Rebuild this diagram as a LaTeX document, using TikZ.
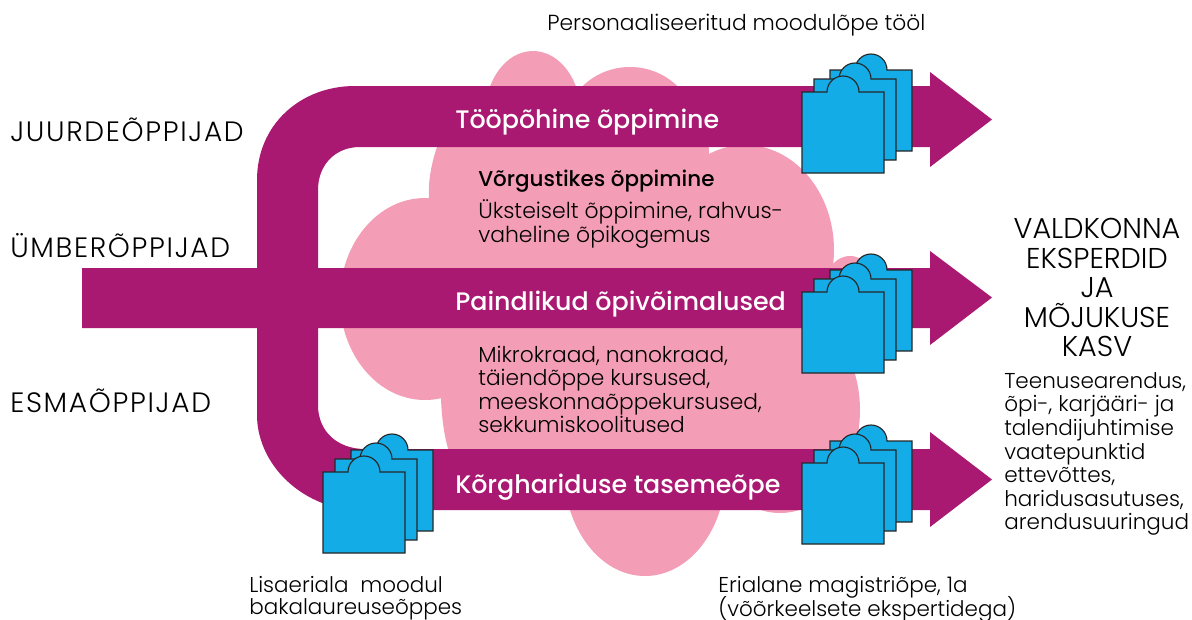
\documentclass[tikz,border=0pt]{standalone}
\usepackage{fontspec}
\setmainfont{Poppins Light}[BoldFont=Poppins Medium]
\definecolor{plum}{HTML}{A91871}
\definecolor{cloudpink}{HTML}{F49DB6}
\definecolor{cardblue}{HTML}{13ACE6}
\newcommand{\fs}[2]{\fontsize{#1}{#2}\selectfont}
\newcommand{\onecard}[2]{%
  \draw[cardline,shift={(#1,#2)}] (0,0) -- (25,0) arc[start angle=180,end angle=360,radius=16] -- (82,0) -- (82,81) -- (0,81) -- cycle;}
\newcommand{\cardstack}[2]{%
  \begin{scope}[shift={(#1,#2)}]
    \onecard{28}{-22}\onecard{12}{-13}\onecard{0}{0}
  \end{scope}}
\tikzset{
  cardline/.style={fill=cardblue,draw=black!85,line width=0.85pt,line join=miter},
  lobe/.style={fill=cloudpink,draw=none},
  band/.style={fill=plum,draw=none},
  lefttext/.style={anchor=west,font=\fs{21}{21}\addfontfeatures{LetterSpace=6},inner sep=0pt},
  inbar/.style={anchor=west,text=white,font=\fs{19}{19}\bfseries,inner sep=0pt},
  body/.style={anchor=north west,align=left,inner sep=0pt,font=\fs{16.3}{17.6}},
}
\begin{document}
\begin{tikzpicture}[x=0.75pt,y=-0.75pt]
\useasboundingbox (0,0) rectangle (1192,619);
% cloud
\fill[lobe] (533,115) ellipse[x radius=48,y radius=64];
\fill[lobe] (630,130) ellipse[x radius=66,y radius=63];
\fill[lobe] (437,147) .. controls (431,165) and (428,182) .. (429,198) -- (445,270) -- (700,280) -- (709,158) -- (708,120) -- (470,120) -- cycle;
\fill[lobe] (425,299) ellipse[x radius=85,y radius=101];
\fill[lobe] (745,250) ellipse[x radius=89,y radius=105];
\fill[lobe] (590,370) ellipse[x radius=150,y radius=110];
\fill[lobe] (441,399) .. controls (442,420) and (444,435) .. (449,452) -- (520,470) -- (520,350) -- (445,350) -- cycle;
\fill[lobe] (780,410) ellipse[x radius=80,y radius=103];
\fill[lobe] (645,470) ellipse[x radius=81,y radius=106];
\fill[lobe] (850,300) ellipse[x radius=30,y radius=44];
\fill[lobe] (500,190) rectangle (770,400);
% bands
\fill[band] (82,268) -- (257,268) -- (257,180) .. controls (257,125) and (300,86) .. (355,86)
  -- (930,86) -- (930,72) -- (992,119.5) -- (930,167) -- (930,147) -- (360,147)
  .. controls (335,147) and (318,165) .. (318,190) -- (318,268)
  -- (930,268) -- (930,251) -- (992,297.5) -- (930,345) -- (930,328) -- (318,328)
  -- (318,405) .. controls (318,432) and (338,449) .. (365,449)
  -- (930,449) -- (930,432) -- (992,479.5) -- (930,527) -- (930,510) -- (350,510)
  .. controls (295,503) and (257,460) .. (257,415) -- (257,328) -- (82,328) -- cycle;
% cards
\cardstack{802}{92}
\cardstack{802}{292}
\cardstack{802}{463}
\cardstack{323}{472}
% labels
\node[anchor=west,inner sep=0pt,font=\fs{16.35}{16.35}] (top) at (547,25) {Personaaliseeritud moodulõpe tööl};
\node[lefttext] (l1) at (10,130) {JUURDEÕPPIJAD};
\node[lefttext] (l2) at (10,246) {ÜMBERÕPPIJAD};
\node[lefttext] (l3) at (10,401) {ESMAÕPPIJAD};
\node[inbar] (b1) at (455,122) {Tööpõhine õppimine};
\node[inbar] (b2) at (455,304) {Paindlikud õpivõimalused};
\node[inbar] (b3) at (455,487) {Kõrghariduse tasemeõpe};
\node[anchor=west,inner sep=0pt,font=\fs{16.1}{16.1}\bfseries] (v) at (478,181) {Võrgustikes õppimine};
\node[body,font=\fs{16.45}{17.6}] (v2) at (478,199.5) {Üksteiselt õppimine, rahvus-\\vaheline õpikogemus};
\node[body] (m) at (478,345.5) {Mikrokraad, nanokraad,\\täiendõppe kursused,\\meeskonnaõppekursused,\\sekkumiskoolitused};
\node[anchor=north,align=center,inner sep=0pt,font=\fs{21.5}{22.2}] (r) at (1097,218) {VALDKONNA\\EKSPERDID\\JA\\MÕJUKUSE\\KASV};
\node[body,font=\fs{16.15}{17.7}] (r2) at (1004,372) {Teenusearendus,\\õpi-, karjääri- ja\\talendijuhtimise\\vaatepunktid\\ettevõttes,\\haridusasutuses,\\arendusuuringud};
\node[body,font=\fs{16.1}{16.8}] (c1) at (249,576) {Lisaeriala\ \ moodul\\bakalaureuseõppes};
\node[body,font=\fs{16.1}{16.8}] (c2) at (718,576) {Erialane magistriõpe, 1a\\[-2pt](võõrkeelsete ekspertidega)};
\end{tikzpicture}
\end{document}
